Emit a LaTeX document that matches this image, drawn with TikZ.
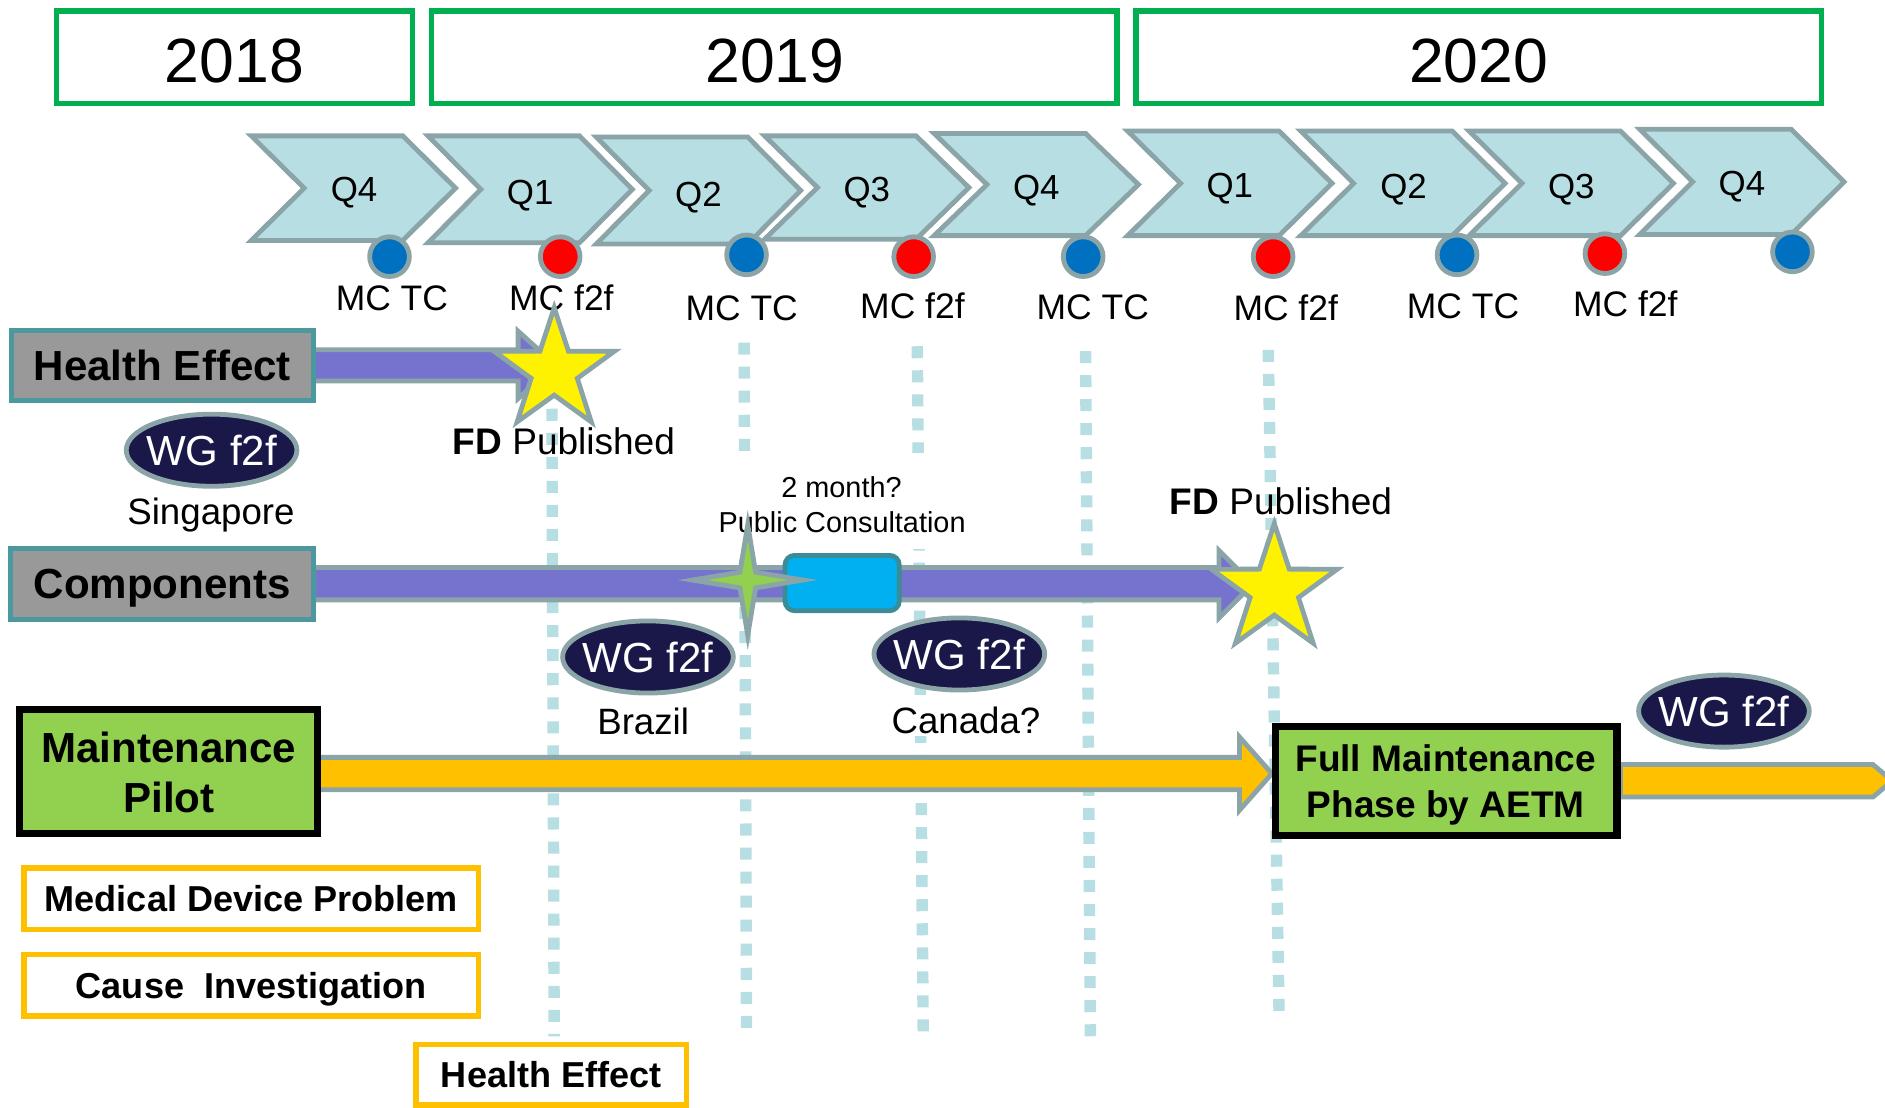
\documentclass[tikz,border=0pt]{standalone}
\usepackage{fontspec}
\setmainfont{Liberation Sans}
\usetikzlibrary{shapes.geometric,calc,backgrounds}
\definecolor{chevfill}{HTML}{B7DEE2}
\definecolor{edgegray}{HTML}{8BA4A7}
\definecolor{navy}{HTML}{1A1848}
\definecolor{yeargreen}{HTML}{00B050}
\definecolor{labelteal}{HTML}{4B989E}
\definecolor{labelgray}{HTML}{999999}
\definecolor{purplearrow}{HTML}{7673CF}
\definecolor{cyanbox}{HTML}{00B0F0}
\definecolor{cyanedge}{HTML}{3A8C96}
\definecolor{leafgreen}{HTML}{92D050}
\definecolor{amber}{HTML}{FFC000}
\definecolor{dotblue}{HTML}{0070C0}
\begin{document}
\begin{tikzpicture}[x=1pt,y=-1pt,
  yearbox/.style={draw=yeargreen, line width=4.5pt, minimum height=77pt, inner sep=0pt},
  yeartext/.style={font=\fontsize{52}{60}\selectfont, text height=37.2pt, text depth=0pt, inner sep=0pt},
  chev/.style={fill=chevfill, draw=edgegray, line width=4pt, line join=miter},
  qtext/.style={font=\fontsize{29}{34}\selectfont, text height=20.8pt, text depth=0pt, inner sep=0pt},
  mctext/.style={font=\fontsize{29.5}{34}\selectfont, text height=21.1pt, text depth=0pt, inner sep=0pt},
  dotb/.style={circle, fill=dotblue, draw=edgegray, line width=4pt, minimum size=33pt, inner sep=0pt},
  dotr/.style={dotb, fill=red},
  rowlabel/.style={fill=labelgray, draw=labelteal, line width=4pt, inner sep=0pt, font=\bfseries\fontsize{35}{40}\selectfont, text height=25pt, text depth=0pt},
  wgoval/.style={ellipse, fill=navy, draw=edgegray, line width=4pt, minimum width=142pt, minimum height=60pt, inner xsep=-8pt, inner ysep=0pt, text=white, font=\fontsize{35}{40}\selectfont, text height=25pt, text depth=0pt},
  city/.style={font=\fontsize{30.5}{36}\selectfont, text height=21.8pt, text depth=0pt, inner sep=0pt},
  fdtext/.style={font=\fontsize{30.8}{36}\selectfont, text height=22pt, text depth=0pt, inner sep=0pt},
  pctext/.style={font=\fontsize{24}{28}\selectfont, text height=17.2pt, text depth=0pt, inner sep=0pt},
  vline/.style={draw=chevfill, line width=9.5pt, dash pattern=on 10pt off 10pt},
  arrowp/.style={fill=purplearrow, draw=edgegray, line width=4pt, line join=miter},
  arrowo/.style={fill=amber, draw=edgegray, line width=4pt, line join=miter},
  greenbox/.style={fill=leafgreen, draw=black, line width=6pt, inner sep=0pt},
  boldbig/.style={font=\bfseries\fontsize{35}{40}\selectfont, text height=25pt, text depth=0pt, inner sep=0pt},
  boldmid/.style={font=\bfseries\fontsize{30.8}{36}\selectfont, text height=22pt, text depth=0pt, inner sep=0pt},
  ambox/.style={draw=amber, line width=4.5pt, fill=white, inner sep=0pt, font=\bfseries\fontsize{30}{36}\selectfont, text height=21.5pt, text depth=0pt},
  starfive/.style={star, star points=5, star point ratio=2.6, minimum size=105pt, inner sep=0pt, fill=yellow, draw=edgegray, line width=4pt},
  starfour/.style={star, star points=4, star point ratio=5, minimum size=92pt, inner sep=0pt, fill=leafgreen, draw=edgegray, line width=4pt},
  cyanrect/.style={draw=cyanedge, fill=cyanbox, line width=4pt, rounded corners=8pt, inner sep=0pt}
]
\useasboundingbox (0,0) rectangle (1568,921);

% year boxes
\node[yearbox, minimum width=296pt] (y18) at (195,47.5) {};
\node[yearbox, minimum width=570pt] (y19) at (644,47.5) {};
\node[yearbox, minimum width=570pt] (y20) at (1230,47.5) {};
\node[yeartext] (t18) at (195,50) {2018};
\node[yeartext] (t19) at (644.5,50) {2019};
\node[yeartext] (t20) at (1230,50) {2020};

% chevrons
\foreach \L/\T/\B in {209/113/200, 356/113/202, 496/114/203, 636/113/199, 777/111/196, 938/109/196, 1082/109/196, 1222/109/196, 1364/107.5/195} {
  \draw[chev] (\L,\T) -- ({\L+126},\T) -- ({\L+170},{(\T+\B)/2}) -- ({\L+126},\B) -- (\L,\B) -- ({\L+44},{(\T+\B)/2}) -- cycle;
}
\node[qtext] (q1) at (294.5,157.5) {Q4};
\node[qtext] (q2) at (441,159.5) {Q1};
\node[qtext] (q3) at (581,161) {Q2};
\node[qtext] (q4) at (721,157.5) {Q3};
\node[qtext] (q5) at (862,155.5) {Q4};
\node[qtext] (q6) at (1023,153.5) {Q1};
\node[qtext] (q7) at (1167.5,154.5) {Q2};
\node[qtext] (q8) at (1307,154.5) {Q3};
\node[qtext] (q9) at (1449,152.5) {Q4};

% dots
\node[dotb] (d1) at (324,213.5) {};
\node[dotr] (d2) at (466,213.5) {};
\node[dotb] (d3) at (621,212) {};
\node[dotr] (d4) at (760,213.5) {};
\node[dotb] (d5) at (901,213.5) {};
\node[dotr] (d6) at (1059,213.5) {};
\node[dotb] (d7) at (1212,212) {};
\node[dotr] (d8) at (1335,211) {};
\node[dotb] (d9) at (1491,209.5) {};

\node[mctext] (m1) at (326,247.5) {MC TC};
\node[mctext] (m2) at (467,247.5) {MC f2f};
\node[mctext] (m3) at (617,256) {MC TC};
\node[mctext] (m4) at (759,254) {MC f2f};
\node[mctext] (m5) at (909,255) {MC TC};
\node[mctext] (m6) at (1069.5,256) {MC f2f};
\node[mctext] (m7) at (1217,254.5) {MC TC};
\node[mctext] (m8) at (1352,252.5) {MC f2f};

% row boxes
\node[rowlabel, minimum width=251pt, minimum height=58pt] (he) at (135,304) {Health Effect};
\node[rowlabel, minimum width=252pt, minimum height=59pt] (comp) at (135,485.5) {Components};
\node[greenbox, minimum width=248pt, minimum height=103pt] (mp) at (140,641.5) {};
\node[boldbig] (mpa) at (140.5,621.5) {Maintenance};
\node[boldbig] (mpb) at (140.5,663) {Pilot};
\node[greenbox, minimum width=284pt, minimum height=91pt] (fm) at (1203,649.5) {};
\node[boldmid] (fma) at (1202.5,631) {Full Maintenance};
\node[boldmid] (fmb) at (1202.5,669) {Phase by AETM};
\node[ambox, minimum width=378pt, minimum height=51pt] (mdp) at (209,747.5) {Medical Device Problem};
\node[ambox, minimum width=378pt, minimum height=51pt] (ci) at (209,819.5) {Cause\ \ Investigation};
\node[ambox, minimum width=225pt, minimum height=50pt] (hes) at (458.5,894) {Health Effect};

% arrow tips
\coordinate (tipA) at (462,303.5);
\coordinate (tipB) at (1042,486);
\coordinate (tipC) at (1058,643.5);

\begin{pgfonlayer}{background}
\draw[vline] (459,300) -- (461,862);
\draw[vline] (619,285) -- (621,860);
\draw[vline] (763,288) -- (768,862);
\draw[vline] (903,292) -- (907,862);
\draw[vline] (1055,291) -- (1064,846);
\fill[white] (596,377) rectangle (806,457);
\draw[arrowp] ($(he.east)+(-2,-13)$) -- (431,291) -- (431,275.5) -- (tipA) -- (431,331.5) -- (431,317) -- ($(he.east)+(-2,13)$) -- cycle;
\draw[arrowp] ($(comp.east)+(-2,-13.5)$) -- (1014,472) -- (1014,458) -- (tipB) -- (1014,514) -- (1014,499) -- ($(comp.east)+(-2,13.5)$) -- cycle;
\draw[arrowo] ($(mp.east)+(-3,-11.5)$) -- (1031,630) -- (1031,613) -- (tipC) -- (1031,674) -- (1031,657) -- ($(mp.east)+(-3,15.5)$) -- cycle;
\draw[arrowo] ($(fm.east)+(0,-13.5)$) -- (1558,636) -- (1574,649.5) -- (1558,663) -- ($(fm.east)+(0,13.5)$) -- cycle;
\end{pgfonlayer}

% texts
\node[pctext] (pc1) at (700,405) {2 month?};
\node[pctext] (pc2) at (700.5,434.5) {Public Consultation};
\node[fdtext] (fd1) at (469,367) {{\bfseries FD} Published};
\node[fdtext] (fd2) at (1065.5,417) {{\bfseries FD} Published};

% cyan box and stars
\node[cyanrect, minimum width=95pt, minimum height=46pt] (pcbox) at (700.5,485) {};
\node[starfour] (gs) at (622,482.5) {};
\node[starfive] (s1) at (461,308.5) {};
\node[starfive, minimum size=110pt] (s2) at (1060,490.5) {};

% WG ovals
\node[wgoval] (wg1) at (176,374.5) {WG f2f};
\node[wgoval] (wg2) at (539,546.5) {WG f2f};
\node[wgoval] (wg3) at (798,544) {WG f2f};
\node[wgoval] (wg4) at (1434,591.5) {WG f2f};
\node[city] (sg) at (175.5,425) {Singapore};
\node[city] (br) at (535,600) {Brazil};
\node[city, fill=white, inner sep=2pt] (ca) at (803.5,599) {Canada?};
\end{tikzpicture}
\end{document}
